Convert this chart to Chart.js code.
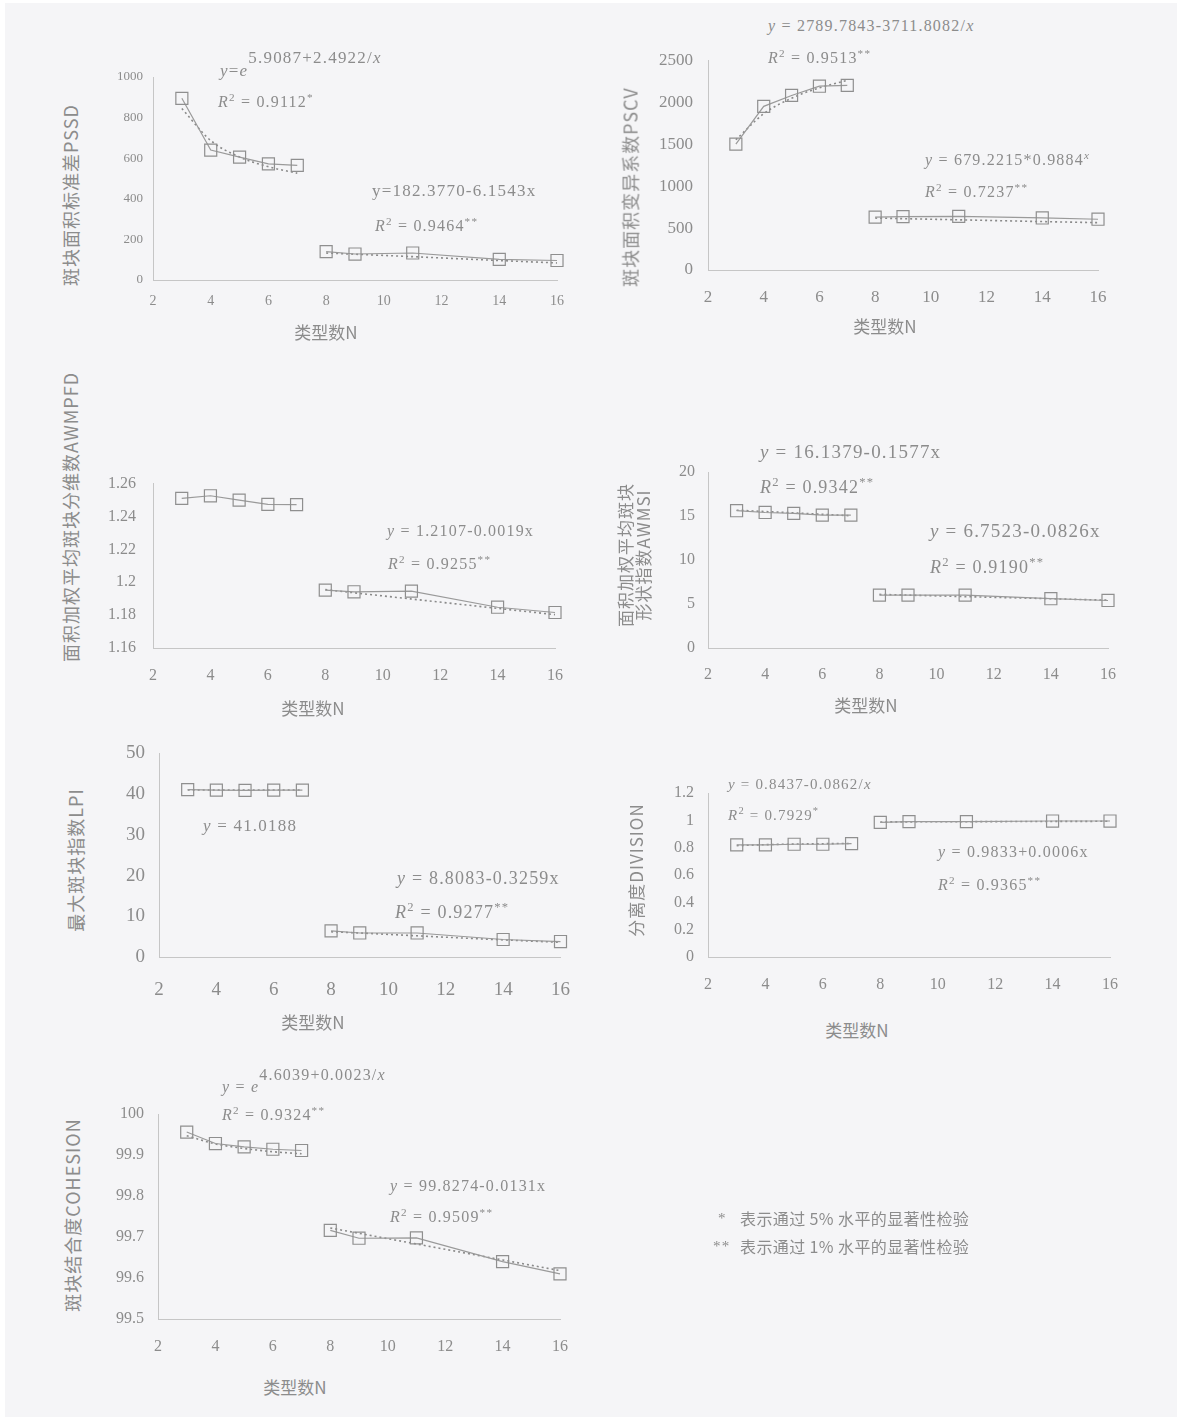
<!DOCTYPE html>
<html>
<head>
<meta charset="utf-8">
<script src="https://cdn.jsdelivr.net/npm/chart.js@4.4.1/dist/chart.umd.min.js"></script>
<style>
  body { margin: 0; width: 1183px; height: 1420px; position: relative; overflow: hidden; background: #fff;
         font-family: "Liberation Serif", serif; color: #8c8c8c; }
  #paper { position: absolute; left: 5px; top: 3px; width: 1172px; height: 1414px; background: #f5f5f7; }
  canvas { position: absolute; }
  .t { position: absolute; white-space: nowrap; line-height: 1; letter-spacing: 1.2px; }
  .t i { font-style: italic; }
  .t sup { font-size: 0.7em; vertical-align: 0.55em; }
  .ex { position: relative; top: -0.75em; }
  .cn { font-family: "Noto Sans CJK SC", sans-serif; letter-spacing: 0.4px; }
  .yt { position: absolute; white-space: nowrap; line-height: 1.05; text-align: center; font-size: 18px;
        letter-spacing: 1px; transform: translate(-50%, -50%) rotate(-90deg); font-family: "Noto Sans CJK SC", sans-serif; }
  .xt { position: absolute; white-space: nowrap; font-size: 17px; transform: translate(-50%, -50%);
        font-family: "Noto Sans CJK SC", sans-serif; }
</style>
</head>
<body>
<div id="paper"></div>
<script>
// landscape type count N, split into two groups
const xLow = [3, 4, 5, 6, 7];
const xHigh = [8, 9, 11, 14, 16];
const xTicks = [2, 4, 6, 8, 10, 12, 14, 16];

// PSSD
const pssdLow = [895, 640, 605, 572, 565];
const pssdHigh = [140, 128, 133, 102, 96];
const pssdFitLow = [845, 687, 606, 558, 526];
const pssdFitHigh = [133, 127, 115, 96, 84];
const pssdTicks = [0, 200, 400, 600, 800, 1000];

// PSCV
const pscvLow = [1500, 1950, 2080, 2190, 2200];
const pscvHigh = [630, 635, 640, 620, 605];
const pscvFitLow = [1552, 1862, 2047, 2171, 2259];
const pscvFitHigh = [619, 612, 598, 577, 564];
const pscvTicks = [0, 500, 1000, 1500, 2000, 2500];

// AWMPFD
const awmpfdLow = [1.251, 1.2526, 1.250, 1.2474, 1.2472];
const awmpfdHigh = [1.1952, 1.1942, 1.1946, 1.1848, 1.1816];
const awmpfdFitHigh = [1.1955, 1.1936, 1.1898, 1.1841, 1.1803];
const awmpfdTicks = [1.16, 1.18, 1.2, 1.22, 1.24, 1.26];

// AWMSI
const awmsiLow = [15.6, 15.4, 15.3, 15.1, 15.1];
const awmsiHigh = [6.0, 6.0, 6.0, 5.6, 5.4];
const awmsiFitLow = [15.66, 15.51, 15.35, 15.19, 15.03];
const awmsiFitHigh = [6.09, 6.01, 5.84, 5.60, 5.43];
const awmsiTicks = [0, 5, 10, 15, 20];

// LPI
const lpiLow = [41.1, 41.0, 40.9, 41.0, 41.0];
const lpiHigh = [6.4, 5.9, 5.9, 4.3, 3.8];
const lpiFitLow = [41.02, 41.02, 41.02, 41.02, 41.02];
const lpiFitHigh = [6.2, 5.9, 5.2, 4.2, 3.6];
const lpiTicks = [0, 10, 20, 30, 40, 50];

// DIVISION
const divLow = [0.82, 0.82, 0.825, 0.825, 0.83];
const divHigh = [0.985, 0.99, 0.99, 0.995, 0.995];
const divFitLow = [0.815, 0.822, 0.826, 0.829, 0.831];
const divFitHigh = [0.988, 0.989, 0.990, 0.992, 0.993];
const divTicks = [0, 0.2, 0.4, 0.6, 0.8, 1, 1.2];

// COHESION
const cohLow = [99.956, 99.928, 99.92, 99.914, 99.911];
const cohHigh = [99.716, 99.697, 99.698, 99.64, 99.61];
const cohFitLow = [99.947, 99.927, 99.916, 99.908, 99.903];
const cohFitHigh = [99.722, 99.709, 99.683, 99.644, 99.618];
const cohTicks = [99.5, 99.6, 99.7, 99.8, 99.9, 100];

const ink = '#8c8c8c';
const lineCol = '#9a9a9a';

function pts(xs, ys) {
  return xs.map((x, i) => ({ x, y: ys[i] }));
}

function makeChart(g, yTicks, series) {
  const padL = 70, padT = 25, padR = 30, padB = 50;
  const cv = document.createElement('canvas');
  cv.width = g.R - g.L + padL + padR;
  cv.height = g.B - g.T + padT + padB;
  cv.style.left = (g.L - padL) + 'px';
  cv.style.top = (g.T - padT) + 'px';
  document.body.appendChild(cv);

  const datasets = [];
  series.forEach(s => {
    datasets.push({
      data: pts(s.x, s.y), showLine: true, borderColor: lineCol, borderWidth: 1.2,
      pointStyle: 'rect', pointRadius: 8.5, pointBorderWidth: 1.2, pointBorderColor: '#8f8f8f',
      pointBackgroundColor: 'rgba(0,0,0,0)', clip: false
    });
    if (s.fit) {
      datasets.push({
        data: pts(s.x, s.fit), showLine: true, borderColor: '#8a8a8a', borderWidth: 1.6,
        borderDash: [2, 3], pointRadius: 0, cubicInterpolationMode: 'monotone', clip: false
      });
    }
  });

  const axisBorder = { display: true, color: '#c6c6c6', width: 1, dash: [3, 2] };

  new Chart(cv, {
    type: 'scatter',
    data: { datasets },
    options: {
      responsive: false,
      animation: false,
      devicePixelRatio: 1,
      layout: { padding: { left: 0, top: padT, right: padR, bottom: 0 } },
      plugins: { legend: { display: false }, tooltip: { enabled: false } },
      scales: {
        x: {
          type: 'linear', min: 2, max: 16,
          afterBuildTicks: s => { s.ticks = xTicks.map(v => ({ value: v })); },
          afterFit: s => { s.height = padB; },
          grid: { display: false, drawTicks: false },
          border: axisBorder,
          ticks: { color: ink, padding: g.xPad, maxRotation: 0, autoSkip: false,
                   font: { family: 'Liberation Serif', size: g.xSize } }
        },
        y: {
          type: 'linear', min: yTicks[0], max: yTicks[yTicks.length - 1],
          afterBuildTicks: s => { s.ticks = yTicks.map(v => ({ value: v })); },
          afterFit: s => { s.width = padL; },
          grid: { display: false, drawTicks: false },
          border: axisBorder,
          ticks: { color: ink, padding: g.yPad,
                   font: { family: 'Liberation Serif', size: g.ySize },
                   callback: v => String(+v.toFixed(3)) }
        }
      }
    }
  });
}

makeChart({ L: 153, R: 557, T: 77, B: 280, xPad: 13, yPad: 10, xSize: 14, ySize: 13 }, pssdTicks, [
  { x: xLow, y: pssdLow, fit: pssdFitLow },
  { x: xHigh, y: pssdHigh, fit: pssdFitHigh }
]);
makeChart({ L: 708, R: 1098, T: 60, B: 270, xPad: 17, yPad: 15, xSize: 17, ySize: 17 }, pscvTicks, [
  { x: xLow, y: pscvLow, fit: pscvFitLow },
  { x: xHigh, y: pscvHigh, fit: pscvFitHigh }
]);
makeChart({ L: 153, R: 555, T: 482, B: 648, xPad: 18, yPad: 17, xSize: 16, ySize: 16 }, awmpfdTicks, [
  { x: xLow, y: awmpfdLow },
  { x: xHigh, y: awmpfdHigh, fit: awmpfdFitHigh }
]);
makeChart({ L: 708, R: 1108, T: 472, B: 648, xPad: 17, yPad: 13, xSize: 16, ySize: 16 }, awmsiTicks, [
  { x: xLow, y: awmsiLow, fit: awmsiFitLow },
  { x: xHigh, y: awmsiHigh, fit: awmsiFitHigh }
]);
makeChart({ L: 159, R: 562, T: 753, B: 957, xPad: 22, yPad: 14, xSize: 19, ySize: 19 }, lpiTicks, [
  { x: xLow, y: lpiLow, fit: lpiFitLow },
  { x: xHigh, y: lpiHigh, fit: lpiFitHigh }
]);
makeChart({ L: 708, R: 1110, T: 793, B: 957, xPad: 18, yPad: 14, xSize: 16, ySize: 16 }, divTicks, [
  { x: xLow, y: divLow, fit: divFitLow },
  { x: xHigh, y: divHigh, fit: divFitHigh }
]);
makeChart({ L: 158, R: 560, T: 1114, B: 1319, xPad: 18, yPad: 14, xSize: 16, ySize: 16 }, cohTicks, [
  { x: xLow, y: cohLow, fit: cohFitLow },
  { x: xHigh, y: cohHigh, fit: cohFitHigh }
]);

// text overlays: equations, axis titles, note
function addText(html, x, y, size, cls) {
  const d = document.createElement('div');
  d.className = cls || 't';
  d.innerHTML = html;
  d.style.left = x + 'px';
  if (cls) {
    d.style.top = y + 'px';
  } else {
    d.style.top = (y - size / 2) + 'px';
    d.style.fontSize = size + 'px';
  }
  if (size && cls) d.style.fontSize = size + 'px';
  document.body.appendChild(d);
}

const R2 = v => '<i>R</i><sup>2</sup> = ' + v;
const lin = s => '<i>y</i> = ' + s;

addText('<i>y</i>=<i>e</i><span class="ex">5.9087+2.4922/<i>x</i></span>', 220, 70, 17);
addText(R2('0.9112<sup>*</sup>'), 218, 100, 16);
addText('y=182.3770-6.1543x', 372, 190, 17);
addText(R2('0.9464<sup>**</sup>'), 375, 224, 16);

addText(lin('2789.7843-3711.8082/<i>x</i>'), 768, 26, 16);
addText(R2('0.9513<sup>**</sup>'), 768, 56, 16);
addText(lin('679.2215*0.9884<sup><i>x</i></sup>'), 925, 158, 16);
addText(R2('0.7237<sup>**</sup>'), 925, 190, 16);

addText(lin('1.2107-0.0019x'), 387, 531, 16);
addText(R2('0.9255<sup>**</sup>'), 388, 562, 16);

addText(lin('16.1379-0.1577x'), 760, 451, 19);
addText(R2('0.9342<sup>**</sup>'), 760, 485, 18);
addText(lin('6.7523-0.0826x'), 930, 530, 19);
addText(R2('0.9190<sup>**</sup>'), 930, 565, 18);

addText(lin('41.0188'), 203, 825, 17);
addText(lin('8.8083-0.3259x'), 397, 878, 18);
addText(R2('0.9277<sup>**</sup>'), 395, 910, 18);

addText(lin('0.8437-0.0862/<i>x</i>'), 728, 784, 15);
addText(R2('0.7929<sup>*</sup>'), 728, 813, 15);
addText(lin('0.9833+0.0006x'), 938, 852, 16);
addText(R2('0.9365<sup>**</sup>'), 938, 883, 16);

addText('<i>y</i> = <i>e</i><span class="ex">4.6039+0.0023/<i>x</i></span>', 222, 1087, 16);
addText(R2('0.9324<sup>**</sup>'), 222, 1113, 16);
addText(lin('99.8274-0.0131x'), 390, 1186, 16);
addText(R2('0.9509<sup>**</sup>'), 390, 1215, 16);

// axis titles
addText('斑块面积标准差PSSD', 70, 195, 18, 'yt');
addText('斑块面积变异系数PSCV', 630, 187, 18, 'yt');
addText('面积加权平均斑块分维数AWMPFD', 70, 517, 18, 'yt');
addText('面积加权平均斑块<br>形状指数AWMSI', 634, 555, 17, 'yt');
addText('最大斑块指数LPI', 75, 860, 18, 'yt');
addText('分离度DIVISION', 636, 870, 17, 'yt');
addText('斑块结合度COHESION', 72, 1215, 18, 'yt');

addText('类型数N', 326, 331, 17, 'xt');
addText('类型数N', 885, 325, 17, 'xt');
addText('类型数N', 313, 707, 17, 'xt');
addText('类型数N', 866, 704, 17, 'xt');
addText('类型数N', 313, 1021, 17, 'xt');
addText('类型数N', 857, 1029, 17, 'xt');
addText('类型数N', 295, 1386, 17, 'xt');

// significance note
addText('*', 718, 1218, 15);
addText('<span class="cn">表示通过 5% 水平的显著性检验</span>', 740, 1218, 16);
addText('**', 713, 1246, 15);
addText('<span class="cn">表示通过 1% 水平的显著性检验</span>', 740, 1246, 16);
</script>
</body>
</html>
